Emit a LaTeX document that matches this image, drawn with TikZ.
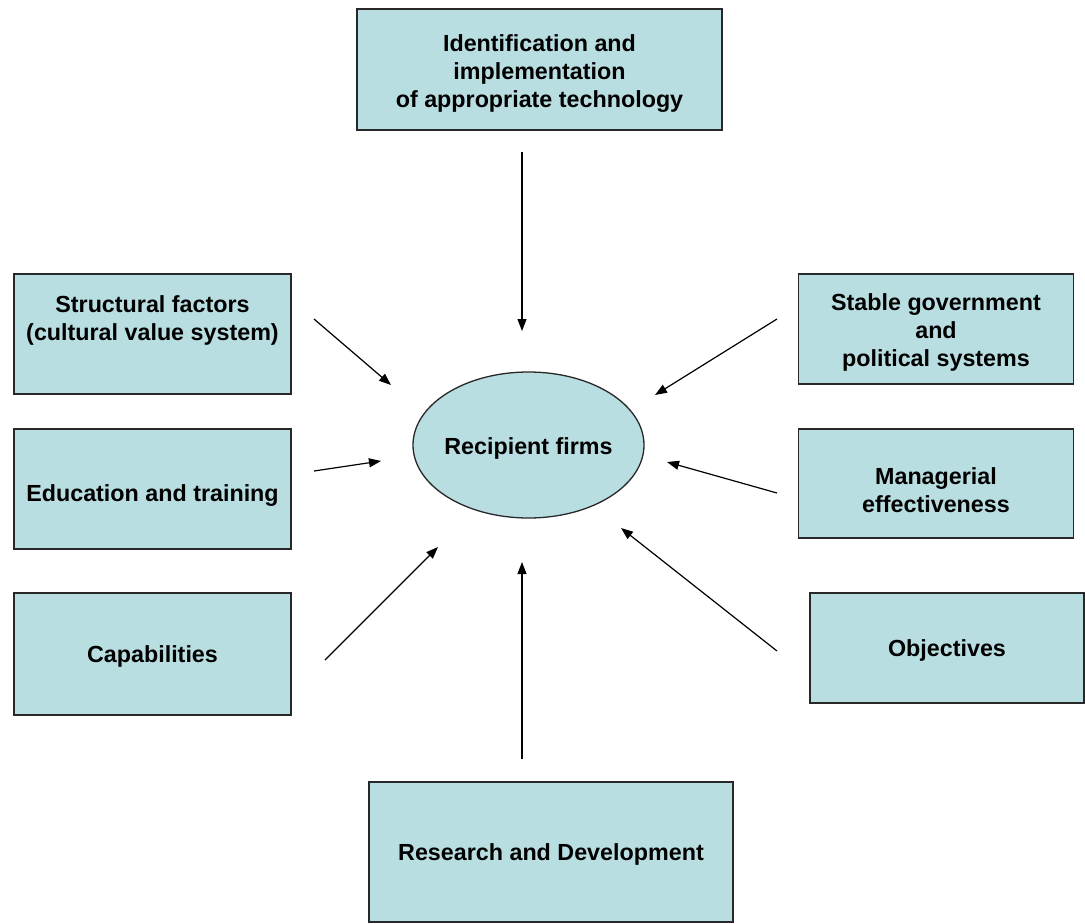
\documentclass[tikz,border=0pt]{standalone}
\usepackage{fontspec}
\setmainfont{Liberation Sans}
\usetikzlibrary{arrows.meta}
\definecolor{boxfill}{RGB}{185,222,225}
\definecolor{boxline}{RGB}{40,40,40}
\begin{document}
\begin{tikzpicture}[x=1pt,y=-1pt,
  box/.style={draw=boxline,line width=1.3pt,fill=boxfill,inner sep=0pt},
  lbl/.style={font=\fontsize{23.3}{28}\selectfont\bfseries,align=center,inner sep=0pt},
  arr/.style={-{Triangle[length=12pt,width=9pt]},line width=1.2pt,black}]
\useasboundingbox (0,0) rectangle (1085,924);
% boxes
\node[box,minimum width=365pt,minimum height=121pt] (top) at (539.5,69.5) {};
\node[lbl] (toptext) at (539.5,74) {Identification and\\implementation\\of appropriate technology};
\node[box,minimum width=277pt,minimum height=120pt] (struct) at (152.5,334) {};
\node[lbl] (structtext) at (152.5,320) {Structural factors\\(cultural value system)};
\node[box,minimum width=277pt,minimum height=120pt] (edu) at (152.5,489) {};
\node[lbl] (edutext) at (152.5,496) {Education and training};
\node[box,minimum width=277pt,minimum height=122pt] (cap) at (152.5,654) {};
\node[lbl] (captext) at (152.5,656) {Capabilities};
\node[box,minimum width=275pt,minimum height=110pt] (stable) at (936,329) {};
\node[lbl] (stabletext) at (936,332) {Stable government\\and\\political systems};
\node[box,minimum width=275pt,minimum height=109pt] (manag) at (936,483.5) {};
\node[lbl] (managtext) at (936,490) {Managerial\\effectiveness};
\node[box,minimum width=274pt,minimum height=110pt] (obj) at (947,648) {};
\node[lbl] (objtext) at (947,650) {Objectives};
\node[box,minimum width=364pt,minimum height=140pt] (rd) at (551,852) {};
\node[lbl] (rdtext) at (551,854) {Research and Development};
% ellipse
\draw[draw=boxline,line width=1.3pt,fill=boxfill] (528.5,445) ellipse [x radius=115.5pt,y radius=73pt];
\node[lbl] (firms) at (528.5,448) {Recipient firms};
% arrow endpoints
\coordinate (a1) at (522,152); \coordinate (b1) at (522,331);
\coordinate (a2) at (314,319); \coordinate (b2) at (391,385);
\coordinate (a3) at (314,471); \coordinate (b3) at (381,461);
\coordinate (a4) at (325,660); \coordinate (b4) at (438,547);
\coordinate (a5) at (522,759); \coordinate (b5) at (522,562);
\coordinate (a6) at (777,319); \coordinate (b6) at (655,395);
\coordinate (a7) at (777,493); \coordinate (b7) at (667,462);
\coordinate (a8) at (777,651); \coordinate (b8) at (621,528);
\foreach \i in {1,...,8} \draw[arr] (a\i) -- (b\i);
\end{tikzpicture}
\end{document}
